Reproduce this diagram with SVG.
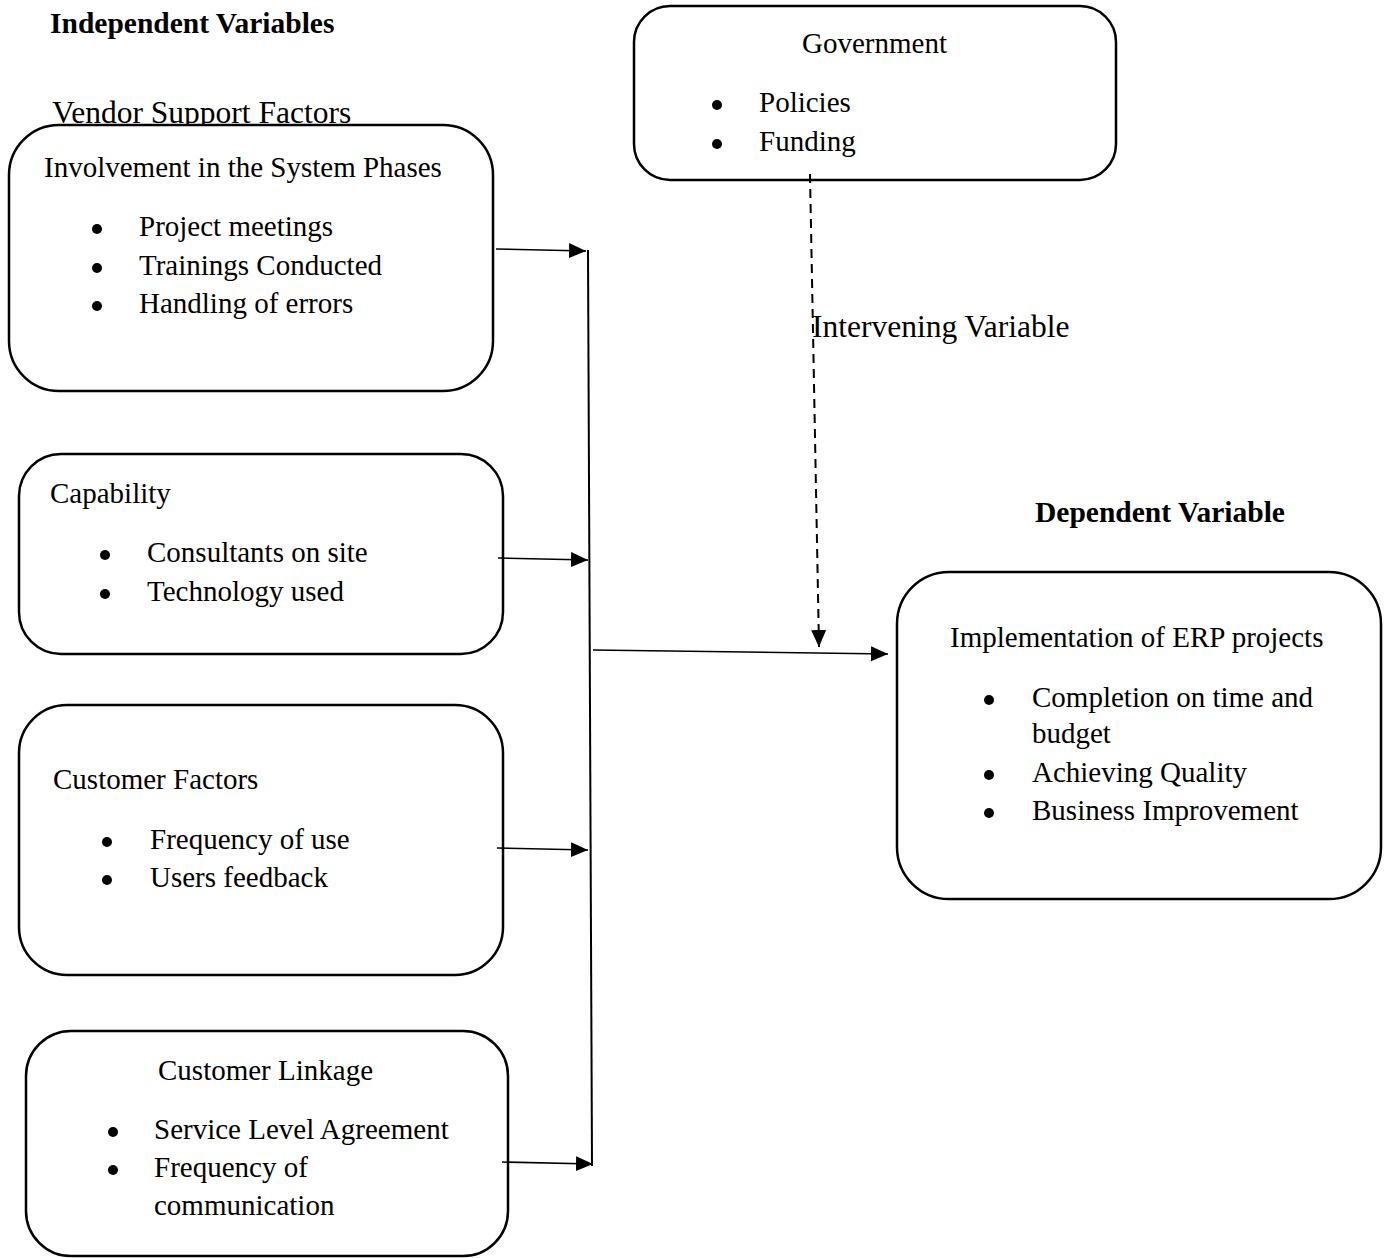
<svg xmlns="http://www.w3.org/2000/svg" width="1387" height="1258" viewBox="0 0 1387 1258">
<style>
  text { font-family: "Liberation Serif", "Times New Roman", serif; font-size: 29px; fill: #000; }
  .bold { font-weight: bold; font-size: 29.5px; }
  .big { font-size: 31.5px; }
  .box { fill: #fff; stroke: #000; stroke-width: 2.5; }
  .bul { fill: #000; }
  .conn { stroke: #000; stroke-width: 1.6; fill: none; }
  .dash { stroke-width: 2; stroke-dasharray: 9 6; }
</style>
<defs>
  <marker id="arr" markerUnits="userSpaceOnUse" markerWidth="18" markerHeight="18" viewBox="0 0 18 18" refX="17" refY="9" orient="auto">
    <path d="M0,1.5 L17,9 L0,16.5 Z" fill="#000"/>
  </marker>
</defs>
<rect width="1387" height="1258" fill="#fff"/>

<text class="bold" x="50" y="33">Independent Variables</text>
<text class="big" x="52" y="123">Vendor Support Factors</text>
<text class="big" x="812" y="337">Intervening Variable</text>
<text class="bold" x="1035" y="522">Dependent Variable</text>

<g id="node-involvement">
  <rect class="box" x="9" y="125" width="484" height="266" rx="50" ry="50"/>
  <text x="44" y="177">Involvement in the System Phases</text>
  <circle class="bul" cx="97" cy="229" r="5"/>
  <text x="139" y="236">Project meetings</text>
  <circle class="bul" cx="97" cy="268" r="5"/>
  <text x="139" y="275">Trainings Conducted</text>
  <circle class="bul" cx="97" cy="306" r="5"/>
  <text x="139" y="313">Handling of errors</text>
</g>

<g id="node-capability">
  <rect class="box" x="19" y="454" width="484" height="200" rx="42" ry="42"/>
  <text x="50" y="503">Capability</text>
  <circle class="bul" cx="105" cy="555" r="5"/>
  <text x="147" y="562">Consultants on site</text>
  <circle class="bul" cx="105" cy="594" r="5"/>
  <text x="147" y="601">Technology used</text>
</g>

<g id="node-customer-factors">
  <rect class="box" x="19" y="705" width="484" height="270" rx="48" ry="48"/>
  <text x="53" y="789">Customer Factors</text>
  <circle class="bul" cx="107" cy="842" r="5"/>
  <text x="150" y="849">Frequency of use</text>
  <circle class="bul" cx="107" cy="880" r="5"/>
  <text x="150" y="887">Users feedback</text>
</g>

<g id="node-customer-linkage">
  <rect class="box" x="26" y="1031" width="482" height="225" rx="45" ry="45"/>
  <text x="158" y="1080">Customer Linkage</text>
  <circle class="bul" cx="113" cy="1132" r="5"/>
  <text x="154" y="1139">Service Level Agreement</text>
  <circle class="bul" cx="113" cy="1170" r="5"/>
  <text x="154" y="1177">Frequency of</text>
  <text x="154" y="1215">communication</text>
</g>

<g id="node-government">
  <rect class="box" x="634" y="6" width="482" height="174" rx="36" ry="36"/>
  <text x="802" y="53">Government</text>
  <circle class="bul" cx="717" cy="105" r="5"/>
  <text x="759" y="112">Policies</text>
  <circle class="bul" cx="717" cy="144" r="5"/>
  <text x="759" y="151">Funding</text>
</g>

<g id="node-implementation">
  <rect class="box" x="897" y="572" width="484" height="327" rx="52" ry="52"/>
  <text x="950" y="647">Implementation of ERP projects</text>
  <circle class="bul" cx="989" cy="700" r="5"/>
  <text x="1032" y="707">Completion on time and</text>
  <text x="1032" y="743">budget</text>
  <circle class="bul" cx="989" cy="775" r="5"/>
  <text x="1032" y="782">Achieving Quality</text>
  <circle class="bul" cx="989" cy="813" r="5"/>
  <text x="1032" y="820">Business Improvement</text>
</g>

<g id="connectors">
  <line class="conn" x1="496" y1="249" x2="586" y2="251" marker-end="url(#arr)"/>
  <line class="conn" x1="498" y1="558" x2="588" y2="560" marker-end="url(#arr)"/>
  <line class="conn" x1="497" y1="848" x2="588" y2="850" marker-end="url(#arr)"/>
  <line class="conn" x1="502" y1="1162" x2="593" y2="1164" marker-end="url(#arr)"/>
  <line class="conn" x1="588" y1="250" x2="592" y2="1166" style="stroke-width:2"/>
  <line class="conn" x1="593" y1="650" x2="888" y2="654" marker-end="url(#arr)"/>
  <line class="conn dash" x1="810" y1="174" x2="819" y2="647" marker-end="url(#arr)"/>
</g>
</svg>
